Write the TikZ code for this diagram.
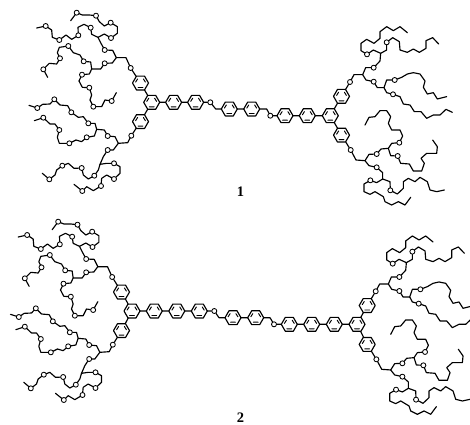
\documentclass[tikz,border=0pt]{standalone}
\usepackage{fontspec}
\setmainfont{Liberation Serif}
\newcounter{oc}
\tikzset{
  bond/.style={line width=1.15pt,line join=round,line cap=round,black},
  atom/.style={circle,draw=black,fill=white,line width=.85pt,inner sep=0pt,minimum size=5pt},
  oat/.style={atom,/utils/exec={\stepcounter{oc}},name=ox\arabic{oc}},
  ringnode/.style={circle,draw=none,inner sep=0pt,minimum size=16pt},
  cpd/.style={inner sep=0pt,font=\bfseries\fontsize{14.5}{14.5}\selectfont}
}
\newcommand{\ringat}[3]{%
  \node[ringnode] (#1) at (#2,#3) {};
  \begin{scope}[shift={(#2,#3)}]
    \draw[bond] (-8,0)--(-4,-6.93)--(4,-6.93)--(8,0)--(4,6.93)--(-4,6.93)--cycle;
    \draw[bond,line width=.95pt] (-2.4,4.5)--(2.4,4.5) (-4.9,-.9)--(-2.9,-4.1) (4.9,-.9)--(2.9,-4.1);
  \end{scope}}
\newcommand{\Ox}{node[oat]{}}
\newcommand{\leftdendron}[3]{%
 \begin{scope}[shift={(#2,#3)},scale=.33333,name prefix=#1-]
  \draw[bond] (392,204) node[atom,name=f1]{} -- (378,173) -- (349,173) -- (338,151) -- (314,150) \Ox -- (303,130) -- (294,112) -- (313,102) -- (333,114) \Ox -- (352,100) -- (352,80) -- (332,68) \Ox -- (313,78) -- (298,65) -- (288,47) \Ox -- (268,45) -- (247,45) -- (230,38) \Ox -- (212,62);
  \draw[bond] (294,112) -- (275,103) -- (272,83) \Ox -- (252,73) -- (234,82) -- (235,106) \Ox -- (215,118) -- (198,105) -- (178,120) \Ox -- (157,112) -- (155,90) -- (137,78) \Ox -- (110,84);
  \draw[bond] (349,173) -- (337,189) -- (314,190) \Ox -- (302,207) -- (275,207) -- (272,186) -- (251,184) \Ox -- (240,165) -- (220,158) -- (205,138) \Ox -- (178,142) -- (172,158) -- (180,175) \Ox -- (170,192) -- (148,190) -- (130,208) \Ox -- (143,232);
  \draw[bond] (275,207) -- (268,222) -- (246,224) \Ox -- (237,243) -- (247,262) -- (268,263) \Ox -- (275,285) -- (270,300) -- (280,320) \Ox -- (305,320) -- (315,300) -- (335,303) \Ox -- (349,278);
  \draw[bond] (394,407) node[atom,name=f2]{} -- (383,428) -- (355,430) -- (345,410) -- (323,408) \Ox -- (313,390) -- (290,388) -- (285,370) -- (265,370) \Ox -- (250,350) -- (235,352) -- (214,337) \Ox -- (203,317) -- (180,315) -- (163,298) \Ox -- (150,312) -- (128,313) -- (112,324) \Ox -- (87,316);
  \draw[bond] (290,388) -- (283,408) -- (260,412) \Ox -- (245,425) -- (228,420) -- (208,430) \Ox -- (178,430) -- (172,412) -- (178,390) \Ox -- (165,372) -- (150,372) -- (130,353) \Ox -- (103,362);
  \draw[bond] (355,430) -- (340,450) -- (323,450) \Ox -- (310,470) -- (300,493) -- (320,490) -- (342,490) \Ox -- (360,500) -- (360,520) -- (342,537) \Ox -- (320,525) -- (305,535) -- (303,558) \Ox -- (280,572) -- (260,560) -- (247,573) \Ox -- (222,553);
  \draw[bond] (300,493) -- (295,510) -- (283,527) \Ox -- (265,537) -- (250,525) -- (245,504) \Ox -- (222,505) -- (205,490) -- (187,497) \Ox -- (170,510) -- (165,525) -- (148,538) \Ox -- (127,520);
 \end{scope}}
\newcommand{\rightdendron}[3]{%
 \begin{scope}[shift={(#2,#3)},scale=.33333,name prefix=#1-]
  \draw[bond] (90,246) node[atom,name=f1]{} -- (102,224) -- (128,224) -- (137,203) -- (161,203) \Ox -- (180,183) -- (182,160) -- (200,150) -- (200,127) \Ox -- (218,113) -- (238,125) -- (240,150) -- (262,157) -- (280,147) -- (298,157) -- (318,145) -- (318,122) -- (338,113) -- (356,132);
  \draw[bond] (182,160) -- (160,150) -- (141,163) \Ox -- (123,152) -- (123,130) -- (140,118) -- (162,130) -- (180,115) -- (180,95) -- (200,80) -- (220,92) -- (240,80) -- (262,98);
  \draw[bond] (128,224) -- (138,240) -- (161,245) \Ox -- (172,263) -- (192,263) -- (200,240) -- (224,240) \Ox -- (245,232) -- (262,222) -- (280,218) -- (300,222) -- (315,243) -- (310,262) -- (322,282) -- (340,278) -- (352,297) -- (380,290);
  \draw[bond] (192,263) -- (200,278) -- (219,283) \Ox -- (240,290) -- (250,312) -- (270,315) -- (283,335) -- (303,335) -- (320,355) -- (340,345) -- (360,345) -- (378,328) -- (397,337);
  \draw[bond] (92,450) node[atom,name=f2]{} -- (108,480) -- (135,482) -- (147,463) -- (170,462) \Ox -- (183,447) -- (205,445) -- (215,430) -- (238,428) \Ox -- (248,408) -- (240,390) -- (215,390) -- (205,370) -- (212,350) -- (200,332) -- (180,332) -- (165,350) -- (147,352) -- (135,375);
  \draw[bond] (205,445) -- (212,467) -- (233,468) \Ox -- (242,490) -- (268,492) -- (280,513) -- (305,513) -- (313,490) -- (303,475) -- (320,460) -- (350,460) -- (352,440) -- (338,420);
  \draw[bond] (135,482) -- (147,497) -- (170,502) \Ox -- (188,518) -- (188,537) -- (210,545) -- (211,571) \Ox -- (232,582) -- (250,565) -- (250,545) -- (265,535) -- (285,545) -- (300,532) -- (322,545) -- (330,570) -- (350,575) -- (373,570);
  \draw[bond] (188,537) -- (170,548) -- (151,541) \Ox -- (132,552) -- (132,575) -- (150,583) -- (165,575) -- (190,590) -- (195,605) -- (215,615) -- (235,605) -- (255,615) -- (272,592);
 \end{scope}}
\begin{document}
\begin{tikzpicture}[x=1pt,y=-1pt]
\useasboundingbox (0,0) rectangle (470,424);
% compound 1
\leftdendron{la}{0}{0}
\rightdendron{ra}{320}{0}
\ringat{ac}{151.7}{102.3}
\ringat{au}{140.5}{83}
\ringat{ad}{140.5}{121.6}
\ringat{a1}{173.6}{102.3}
\ringat{a2}{195.6}{102.3}
\ringat{a3}{229.3}{109}
\ringat{a4}{251.7}{109}
\ringat{a5}{285}{115.7}
\ringat{a6}{307.3}{115.7}
\ringat{bc}{330.3}{115.7}
\ringat{bu}{341.5}{96.3}
\ringat{bd}{341.5}{135.1}
\node[atom] (ao1) at (210.3,102.3) {};
\node[atom] (ao2) at (270.3,115.7) {};
\coordinate (ab1) at (215.7,109);
\coordinate (ab2) at (266.7,109);
\draw[bond] (au)--(ac) (ad)--(ac) (ac)--(a1) (a1)--(a2) (a2)--(ao1) (ao1)--(ab1)--(a3) (a3)--(a4) (a4)--(ab2)--(ao2) (ao2)--(a5) (a5)--(a6) (a6)--(bc) (bc)--(bu) (bc)--(bd);
\draw[bond] (au)--(la-f1) (ad)--(la-f2) (bu)--(ra-f1) (bd)--(ra-f2);
\node[cpd] (n1) at (240.5,192) {1};
% compound 2
\leftdendron{lb}{-18.5}{209}
\rightdendron{rb}{345.7}{209.3}
\ringat{cc}{132}{311}
\ringat{cu}{121.5}{292}
\ringat{cd}{121.5}{330.6}
\ringat{c1}{154.3}{311}
\ringat{c2}{176.8}{311}
\ringat{c3}{199.3}{311}
\ringat{c4}{233}{317.7}
\ringat{c5}{255.7}{317.7}
\ringat{c6}{289.3}{324.3}
\ringat{c7}{311.7}{324.3}
\ringat{c8}{334.3}{324.3}
\ringat{dc}{357}{324.3}
\ringat{du}{367.2}{305.5}
\ringat{dd}{367.2}{344.4}
\node[atom] (co1) at (214.3,311) {};
\node[atom] (co2) at (274,324.3) {};
\coordinate (cb1) at (219,317.7);
\coordinate (cb2) at (270,317.7);
\draw[bond] (cu)--(cc) (cd)--(cc) (cc)--(c1) (c1)--(c2) (c2)--(c3) (c3)--(co1) (co1)--(cb1)--(c4) (c4)--(c5) (c5)--(cb2)--(co2) (co2)--(c6) (c6)--(c7) (c7)--(c8) (c8)--(dc) (dc)--(du) (dc)--(dd);
\draw[bond] (cu)--(lb-f1) (cd)--(lb-f2) (du)--(rb-f1) (dd)--(rb-f2);
\node[cpd] (n2) at (240.5,417.5) {2};
\end{tikzpicture}
\end{document}
